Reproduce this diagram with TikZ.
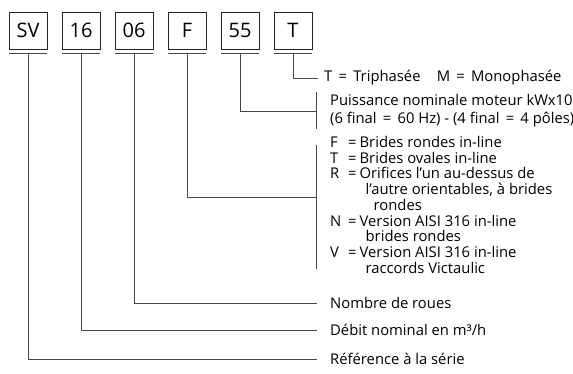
\documentclass[tikz,border=0pt]{standalone}
\usepackage{fontspec}
\setmainfont{Open Sans}
\newcommand{\eqs}{\hspace{0.42em}=\hspace{0.42em}}
\begin{document}
\begin{tikzpicture}[x=1pt,y=-1pt,
  codebox/.style={draw=black!85, line width=0.8pt, minimum width=38pt, minimum height=37pt, inner sep=0pt, font=\fontsize{20}{20}\selectfont},
  lead/.style={draw=black!72, line width=0.9pt},
  lbl/.style={anchor=west, inner sep=0pt, font=\fontsize{14.8}{15}\selectfont, align=left}]
\useasboundingbox (0,0) rectangle (573,373);
% code boxes
\foreach \t/\x/\n in {SV/28/1,16/81/2,06/134/3,F/187/4,55/240/5,T/293/6} {
  \node[codebox] (b\n) at (\x,30.5) {\t};
  \coordinate (u\n) at ([yshift=-4pt]b\n.south);
  \draw[lead] ([yshift=-4pt]b\n.south west) -- ([yshift=-4pt]b\n.south east);
}
% labels
\node[lbl] (l6) at (324,78) {T\eqs Triphasée\hspace{1.1em}M\eqs Monophasée};
\node[lbl, font=\fontsize{14.8}{18}\selectfont] (l5) at (330,111) {Puissance nominale moteur kWx10\\(6 final\eqs 60 Hz) - (4 final\eqs 4 pôles)};
\node[lbl] (l4) at (330,207) {%
  \begin{tabular}{@{}l@{}l@{\hspace{3pt}}l@{}}
  \makebox[18pt][l]{F} & = & Brides rondes in-line\\
  \makebox[18pt][l]{T} & = & Brides ovales in-line\\
  \makebox[18pt][l]{R} & = & Orifices l’un au-dessus de\\
   & & \hspace{6pt}l’autre orientables, à brides\\
   & & \hspace{14pt}rondes\\
  \makebox[18pt][l]{N} & = & Version AISI 316 in-line\\
   & & \hspace{6pt}brides rondes\\
  \makebox[18pt][l]{V} & = & Version AISI 316 in-line\\
   & & \hspace{6pt}raccords Victaulic
  \end{tabular}};
\node[lbl] (l3) at (330,303) {Nombre de roues};
\node[lbl] (l2) at (330,330) {Débit nominal en m³/h};
\node[lbl] (l1) at (330,359) {Référence à la série};
% bars
\coordinate (k5) at (316,111);
\coordinate (k5a) at (316,92);
\coordinate (k5b) at (316,129);
\coordinate (k4) at (316,197);
\coordinate (k4a) at (316,145);
\coordinate (k4b) at (316,269);
% connectors
\draw[lead] (u6) |- ([xshift=-6pt]l6.west);
\draw[lead] (u5) |- (k5);
\draw[lead] (k5a) -- (k5b);
\draw[lead] (u4) |- (k4);
\draw[lead] (k4a) -- (k4b);
\draw[lead] (u3) |- ([xshift=-13pt]l3.west);
\draw[lead] (u2) |- ([xshift=-13pt]l2.west);
\draw[lead] (u1) |- ([xshift=-13pt]l1.west);
\end{tikzpicture}
\end{document}
